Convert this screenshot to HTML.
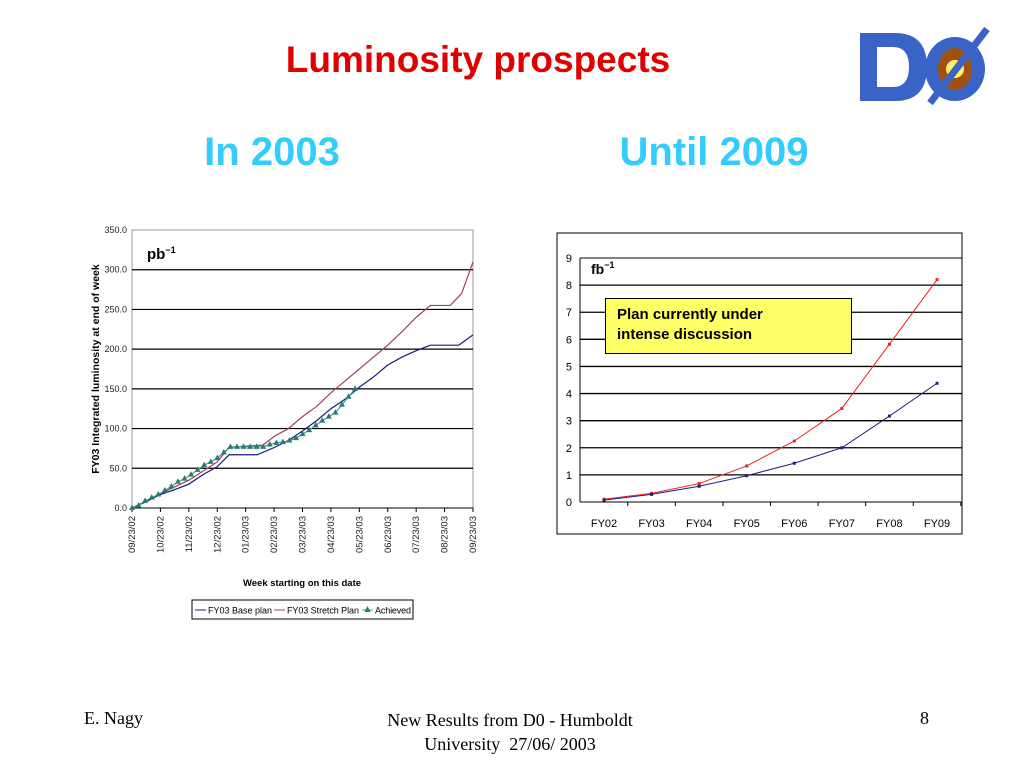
<!DOCTYPE html>
<html><head><meta charset="utf-8"><style>
body{margin:0;width:1024px;height:768px;background:#fff;position:relative;overflow:hidden;font-family:"Liberation Sans",sans-serif}
.a{position:absolute}
</style></head><body>
<div class="a" style="left:150px;top:39px;width:656px;text-align:center;color:#e00000;font-weight:bold;font-size:37px">Luminosity prospects</div>
<div class="a" style="left:122px;top:130px;width:300px;text-align:center;color:#33ccff;font-weight:bold;font-size:40px">In 2003</div>
<div class="a" style="left:564px;top:130px;width:300px;text-align:center;color:#33ccff;font-weight:bold;font-size:40px">Until 2009</div>
<svg class="a" style="left:855px;top:25px" width="140" height="80">
<path d="M5 8 H40 Q72 8 72 42 Q72 76 40 76 H5 Z M22 22 V62 H38 Q54 62 54 42 Q54 22 38 22 Z" fill="#3a63c8" fill-rule="evenodd"/>
<ellipse cx="100" cy="44" rx="30" ry="32" fill="#3a63c8"/><ellipse cx="100" cy="44" rx="17" ry="21" fill="#a05010"/>
<circle cx="100" cy="44" r="9" fill="#ffee66"/><line x1="75" y1="78" x2="132" y2="4" stroke="#3a63c8" stroke-width="7"/>
</svg>

<svg class="a" style="left:0;top:0" width="520" height="640" id="c1"></svg>
<svg class="a" style="left:0;top:0" width="1024" height="560" id="c2"></svg>

<div class="a" style="left:605px;top:298px;width:234px;height:48px;background:#ffff66;border:1px solid #000;padding:6px 0 0 11px;font-size:15px;font-weight:bold;line-height:20px;box-sizing:content-box">Plan currently under<br>intense discussion</div>

<div class="a" style="left:84px;top:708px;font-family:'Liberation Serif',serif;font-size:18px">E. Nagy</div>
<div class="a" style="left:330px;top:708px;width:360px;text-align:center;font-family:'Liberation Serif',serif;font-size:18px;line-height:24px">New Results from D0 - Humboldt<br>University &nbsp;27/06/ 2003</div>
<div class="a" style="left:920px;top:708px;font-family:'Liberation Serif',serif;font-size:18px">8</div>

<script>
const NS="http://www.w3.org/2000/svg";
function mk(p,t,a){const e=document.createElementNS(NS,t);for(const k in a)e.setAttribute(k,a[k]);p.appendChild(e);return e;}
// ---- chart 1 data
const monthLabels=["09/23/02","10/23/02","11/23/02","12/23/02","01/23/03","02/23/03","03/23/03","04/23/03","05/23/03","06/23/03","07/23/03","08/23/03","09/23/03"];
const yTicks1=[0,50,100,150,200,250,300,350];
const baseM=[0,0.5,1,1.5,2,2.5,3,3.42,4.4,5,5.5,6,6.5,7,7.5,8,8.5,9,9.5,10,10.5,11,11.5,12];
const baseV=[0,8,17,23,30,42,52,67,67,76,85,97,110,125,137,152,165,180,190,198,205,205,205,218];
const strM=[0,1,2,3,3.4,4,4.6,5,5.5,6,6.5,7,7.5,8,8.5,9,9.5,10,10.5,11.2,11.6,12];
const strV=[0,18,35,58,76,78,79,90,100,115,128,145,160,175,190,205,222,240,255,255,270,310];
const achV=[0,3,9,13,17,22,27,33,37,42,48,54,58,63,70,77,77,77,77,77,77,80,82,83,85,88,93,98,104,110,115,120,130,140,150];
const weekStep=7.85/34;
{
const s=document.getElementById('c1');
const X0=132,X1=473,Y0=508,Y1=230;
const xs=m=>X0+m*(X1-X0)/12, ys=v=>Y0-v*(Y0-Y1)/350;
mk(s,'rect',{x:X0,y:Y1,width:X1-X0,height:Y0-Y1,fill:'none',stroke:'#999'});
yTicks1.forEach(v=>{
 if(v>0&&v<350){const l=mk(s,'line',{x1:X0,x2:X1,y1:ys(v),y2:ys(v),stroke:'#000','stroke-width':1.2});}
 const t=mk(s,'text',{x:X0-5,y:ys(v)+3,'text-anchor':'end','font-size':9,fill:'#222'});t.textContent=v.toFixed(1);
 
});
mk(s,'line',{x1:X0,x2:X1,y1:Y0,y2:Y0,stroke:'#000'});
monthLabels.forEach((lab,i)=>{
 mk(s,'line',{x1:xs(i),x2:xs(i),y1:Y0,y2:Y0+4,stroke:'#000'});
 const t=mk(s,'text',{transform:`translate(${xs(i)+3},${Y0+8}) rotate(-90)`,'text-anchor':'end','font-size':9.5,fill:'#222'});t.textContent=lab;
 
});
const pl=(M,V,c,n)=>{const p=mk(s,'polyline',{points:M.map((m,i)=>xs(m)+','+ys(V[i])).join(' '),fill:'none',stroke:c,'stroke-width':1.2});};
pl(baseM,baseV,'#1a1a80','base-plan-line');
pl(strM,strV,'#a04060','stretch-plan-line');
const am=achV.map((v,i)=>i*weekStep);
pl(am,achV,'#3aa0a0','achieved-line');
achV.forEach((v,i)=>{const x=xs(am[i]),y=ys(v);const p=mk(s,'polygon',{points:`${x},${y-3.5} ${x-3},${y+2} ${x+3},${y+2}`,fill:'#2a7a70'});});
const yt=mk(s,'text',{transform:`translate(99,369) rotate(-90)`,'text-anchor':'middle','font-size':10.5,'font-weight':'bold'});yt.textContent='FY03 Integrated luminosity at end of week';

const xt=mk(s,'text',{x:302,y:586,'text-anchor':'middle','font-size':9.5,'font-weight':'bold'});xt.textContent='Week starting on this date';

const u=mk(s,'text',{x:147,y:259,'font-size':15,'font-weight':'bold'});u.innerHTML='pb<tspan dy="-6" font-size="9">−1</tspan>';

const lg=mk(s,'g',{});
mk(lg,'rect',{x:192,y:600,width:221,height:19,fill:'#fff',stroke:'#000'});
mk(lg,'line',{x1:195,x2:206,y1:610,y2:610,stroke:'#1a1a80'});
mk(lg,'text',{x:208,y:613.5,'font-size':9,textLength:64}).textContent='FY03 Base plan';
mk(lg,'line',{x1:274,x2:285,y1:610,y2:610,stroke:'#a04060'});
mk(lg,'text',{x:287,y:613.5,'font-size':9,textLength:72}).textContent='FY03 Stretch Plan';
mk(lg,'line',{x1:362,x2:373,y1:610,y2:610,stroke:'#3aa0a0'});
mk(lg,'polygon',{points:'367.5,606 364.5,612 370.5,612',fill:'#2a7a70'});
mk(lg,'text',{x:375,y:613.5,'font-size':9,textLength:36}).textContent='Achieved';
}
// ---- chart 2 data
const cats=["FY02","FY03","FY04","FY05","FY06","FY07","FY08","FY09"];
const blueV=[0.07,0.28,0.58,0.97,1.43,2.0,3.17,4.38];
const redV=[0.1,0.32,0.68,1.33,2.25,3.45,5.82,8.2];
const yTicks2=[0,1,2,3,4,5,6,7,8,9];
{
const s=document.getElementById('c2');
mk(s,'rect',{x:557,y:233,width:405,height:301,fill:'#fff',stroke:'#000'});
const X0=580,X1=962,Y0=502,Y1=258;
const xs=i=>604+i*(937-604)/7, ys=v=>Y0-v*(Y0-Y1)/9;
yTicks2.forEach(v=>{
 const l=mk(s,'line',{x1:X0,x2:X1,y1:ys(v),y2:ys(v),stroke:'#000','stroke-width':v==0||v==9?1:1.3});
 const t=mk(s,'text',{x:X0-8,y:ys(v)+4,'text-anchor':'end','font-size':11});t.textContent=v;
 
});
mk(s,'line',{x1:X0,x2:X0,y1:Y1,y2:Y0,stroke:'#000'});
cats.forEach((c,i)=>{
 mk(s,'line',{x1:xs(i)+23.8,x2:xs(i)+23.8,y1:Y0,y2:Y0+4,stroke:'#000'});
 const t=mk(s,'text',{x:xs(i),y:527,'text-anchor':'middle','font-size':11});t.textContent=c;
 
});
const ser=(V,c,n)=>{const p=mk(s,'polyline',{points:V.map((v,i)=>xs(i)+','+ys(v)).join(' '),fill:'none',stroke:c,'stroke-width':1});
 V.forEach((v,i)=>{const r=mk(s,'rect',{x:xs(i)-1.5,y:ys(v)-1.5,width:3,height:3,fill:c});});};
ser(redV,'#ee2020','stretch-series');
ser(blueV,'#202080','base-series');
const u=mk(s,'text',{x:591,y:274,'font-size':14,'font-weight':'bold'});u.innerHTML='fb<tspan dy="-6" font-size="9">−1</tspan>';

}
</script>
</body></html>
